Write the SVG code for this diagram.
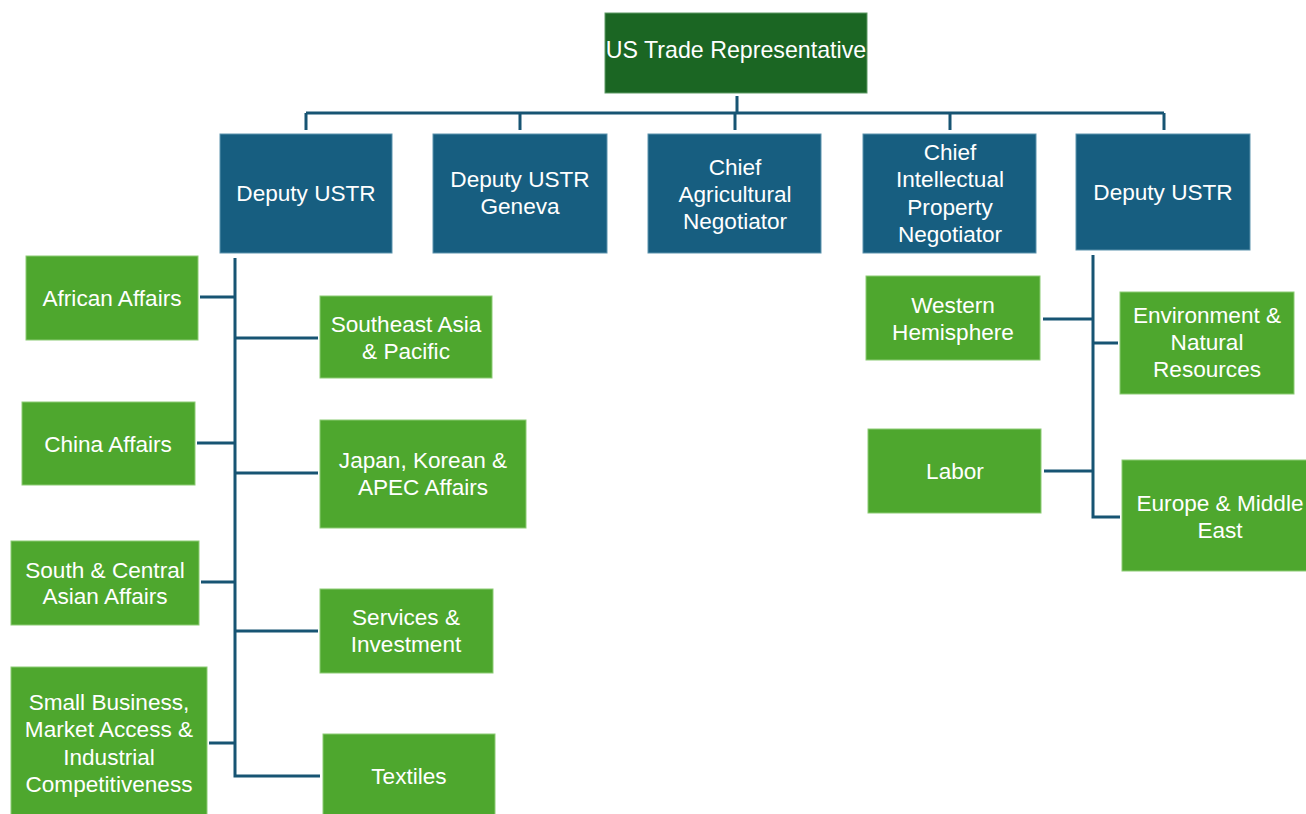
<svg xmlns="http://www.w3.org/2000/svg" width="1306" height="814" viewBox="0 0 1306 814">
<style>
.top{fill:#1b6623;stroke:#5f9a66;stroke-width:1}
.blue{fill:#175e80;stroke:#5d93ad;stroke-width:1}
.green{fill:#4ea72e;stroke:#8ccb74;stroke-width:1}
text{font-family:"Liberation Sans",Arial,sans-serif;font-size:22.6px;fill:#ffffff;text-anchor:middle}
text.big{font-size:23.2px}
.conn{fill:none;stroke:#175473;stroke-width:3}
</style>
<rect width="1306" height="814" fill="#ffffff"/>
<g id="connectors" class="conn">
<path d="M737 96V113M306 113H1164M306 113V130M520 113V130M735 113V130M950 113V130M1164 113V130"/>
<path d="M235 258V776H320M200 297H235M197 443H235M201 582H235M209 743H235M235 338H318M235 473H318M235 631H318"/>
<path d="M1093 255V517H1120M1043 319H1093M1044 471H1093M1093 343H1118"/>
</g>
<g id="n-ustr"><rect class="top" x="605" y="13" width="262" height="80"/><text class="big" x="736" y="58">US Trade Representative</text></g>
<g id="n-deputy1"><rect class="blue" x="220" y="134" width="172" height="119"/><text x="306" y="201">Deputy USTR</text></g>
<g id="n-geneva"><rect class="blue" x="433" y="134" width="174" height="119"/><text x="520" y="187">Deputy USTR</text><text x="520" y="214">Geneva</text></g>
<g id="n-agri"><rect class="blue" x="648" y="134" width="173" height="119"/><text x="735" y="175">Chief</text><text x="735" y="202">Agricultural</text><text x="735" y="229">Negotiator</text></g>
<g id="n-ip"><rect class="blue" x="863" y="134" width="173" height="119"/><text x="950" y="160">Chief</text><text x="950" y="187">Intellectual</text><text x="950" y="215">Property</text><text x="950" y="242">Negotiator</text></g>
<g id="n-deputy2"><rect class="blue" x="1076" y="134" width="174" height="116"/><text x="1163" y="200">Deputy USTR</text></g>
<g id="n-african"><rect class="green" x="26" y="256" width="172" height="84"/><text x="112" y="306">African Affairs</text></g>
<g id="n-china"><rect class="green" x="22" y="402" width="173" height="83"/><text x="108" y="452">China Affairs</text></g>
<g id="n-southcentral"><rect class="green" x="11" y="541" width="188" height="84"/><text x="105" y="578">South &amp; Central</text><text x="105" y="604">Asian Affairs</text></g>
<g id="n-smallbiz"><rect class="green" x="11" y="667" width="196" height="150"/><text x="109" y="710">Small Business,</text><text x="109" y="737">Market Access &amp;</text><text x="109" y="765">Industrial</text><text x="109" y="792">Competitiveness</text></g>
<g id="n-seasia"><rect class="green" x="320" y="296" width="172" height="82"/><text x="406" y="332">Southeast Asia</text><text x="406" y="359">&amp; Pacific</text></g>
<g id="n-japan"><rect class="green" x="320" y="420" width="206" height="108"/><text x="423" y="468">Japan, Korean &amp;</text><text x="423" y="495">APEC Affairs</text></g>
<g id="n-services"><rect class="green" x="320" y="589" width="173" height="84"/><text x="406" y="625">Services &amp;</text><text x="406" y="652">Investment</text></g>
<g id="n-textiles"><rect class="green" x="323" y="734" width="172" height="82"/><text x="409" y="784">Textiles</text></g>
<g id="n-western"><rect class="green" x="866" y="276" width="174" height="84"/><text x="953" y="313">Western</text><text x="953" y="340">Hemisphere</text></g>
<g id="n-labor"><rect class="green" x="868" y="429" width="173" height="84"/><text x="955" y="479">Labor</text></g>
<g id="n-environment"><rect class="green" x="1120" y="292" width="174" height="102"/><text x="1207" y="323">Environment &amp;</text><text x="1207" y="350">Natural</text><text x="1207" y="377">Resources</text></g>
<g id="n-europe"><rect class="green" x="1122" y="460" width="190" height="111"/><text x="1220" y="511">Europe &amp; Middle</text><text x="1220" y="538">East</text></g>
</svg>
